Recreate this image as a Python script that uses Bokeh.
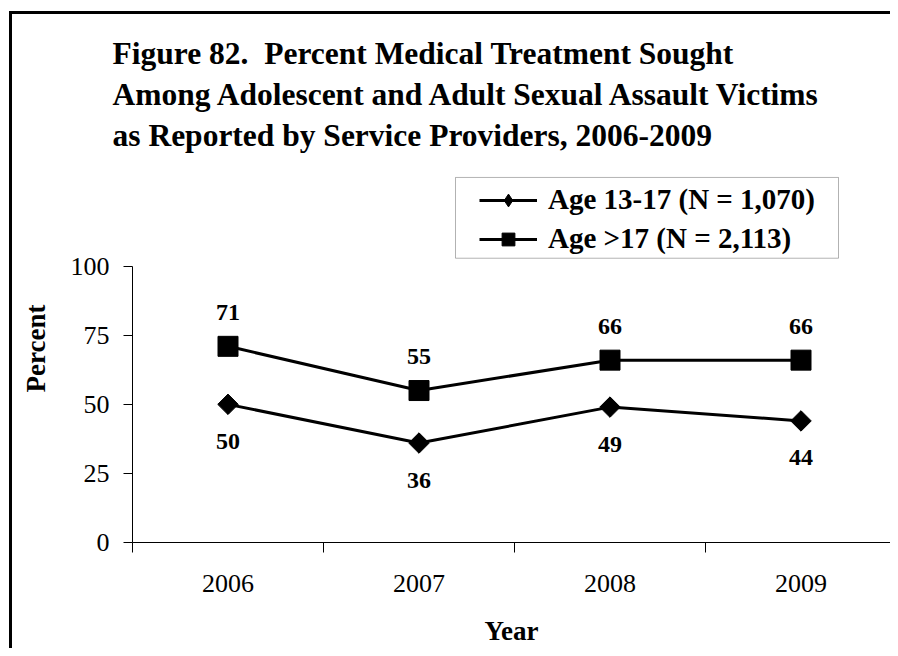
from bokeh.plotting import figure
from bokeh.models import (ColumnDataSource, FixedTicker, LabelSet, Legend,
                          LegendItem, BoxAnnotation, Title, GlobalInlineStyleSheet)
from bokeh.embed import file_html
from bokeh.resources import INLINE
import math

# ---- data ----
years = ["2006", "2007", "2008", "2009"]
age_13_17 = [50, 36, 49, 44]
age_over_17 = [71, 55, 66, 66]
y_ticks = [0, 25, 50, 75, 100]
title_lines = [
    "Figure 82.\u00a0 Percent Medical Treatment Sought",
    "Among Adolescent and Adult Sexual Assault Victims",
    "as Reported by Service Providers, 2006-2009",
]
legend_labels = ["Age 13-17 (N = 1,070)", "Age >17 (N = 2,113)"]

FONT = "Liberation Serif"

# ---- layout geometry (pixels) ----
W, H = 890, 648
AX_LEFT, AX_BOTTOM, AX_TOP100 = 132, 543, 266   # y axis x, y=0 and y=100 rows
FRAME_TOP = 154
CAT_W = 191
PX_PER_UNIT = (AX_BOTTOM - AX_TOP100) / 100.0

def xd(px):
    return -0.5 + (px - AX_LEFT) / CAT_W

def yd(py):
    return (AX_BOTTOM - py) / PX_PER_UNIT

idx = list(range(len(years)))
src = ColumnDataSource(dict(
    x=idx,
    teen=age_13_17,
    adult=age_over_17,
    teen_txt=[str(v) for v in age_13_17],
    adult_txt=[str(v) for v in age_over_17],
))

p = figure(width=W, height=H, output_backend="svg", toolbar_location=None, title=None,
           x_range=(-0.5, xd(W)), y_range=(0, yd(FRAME_TOP)),
           min_border_left=AX_LEFT, min_border_right=0,
           min_border_top=FRAME_TOP, min_border_bottom=H - AX_BOTTOM)
p.outline_line_color = None
p.xgrid.visible = False
p.ygrid.visible = False
p.background_fill_color = "white"
p.border_fill_alpha = 0
# outer chart frame (left and top edges; the others lie beyond the picture),
# painted as the element background behind the transparent canvas border area
p.styles = {
    "overflow": "hidden",
    "background-color": "white",
    "background-image": "linear-gradient(#000, #000), linear-gradient(#000, #000)",
    "background-position": "9px 11px, 9px 11px",
    "background-size": "3px 100%, 100% 3px",
    "background-repeat": "no-repeat",
}
# keep the page itself free of scrollbars
p.stylesheets = [GlobalInlineStyleSheet(
    css="html, body { overflow: hidden !important; } "
        "::-webkit-scrollbar { display: none; width: 0; height: 0; }")]

# ---- axes ----
xa = p.xaxis[0]
xa.ticker = FixedTicker(ticks=idx, minor_ticks=[i - 0.5 for i in range(len(years) + 1)])
xa.major_label_overrides = {i: y for i, y in zip(idx, years)}
xa.major_tick_line_color = None
xa.major_tick_out = 0
xa.major_tick_in = 0
xa.minor_tick_line_color = "black"
xa.minor_tick_out = 10
xa.minor_tick_in = 0
xa.axis_line_color = "black"
xa.major_label_text_font = FONT
xa.major_label_text_font_size = "26px"
xa.major_label_text_color = "black"
xa.major_label_standoff = 22
xa.axis_label = "Year"
xa.axis_label_text_font = FONT
xa.axis_label_text_font_style = "bold"
xa.axis_label_text_font_size = "27px"
xa.axis_label_text_color = "black"
xa.axis_label_standoff = 21

ya = p.yaxis[0]
ya.ticker = FixedTicker(ticks=y_ticks)
ya.bounds = (0, 100)
ya.major_tick_out = 9
ya.major_tick_in = 0
ya.minor_tick_line_color = None
ya.major_tick_line_color = "black"
ya.axis_line_color = "black"
ya.major_label_text_font = FONT
ya.major_label_text_font_size = "26px"
ya.major_label_text_color = "black"
ya.major_label_standoff = 14
ya.axis_label = "Percent"
ya.axis_label_text_font = FONT
ya.axis_label_text_font_style = "bold"
ya.axis_label_text_font_size = "27px"
ya.axis_label_text_color = "black"
ya.axis_label_standoff = 17

# ---- series ----
l_teen = p.line("x", "teen", source=src, line_color="black", line_width=3)
# diamond glyph (also used for the legend key), covered by a rotated square
m_teen_key = p.scatter("x", "teen", source=src, marker="diamond", size=19, color="black")
m_teen = p.scatter("x", "teen", source=src, marker="square", size=14.5,
                   angle=math.pi / 4, color="black")
l_adult = p.line("x", "adult", source=src, line_color="black", line_width=3)
m_adult = p.scatter("x", "adult", source=src, marker="square", size=20, color="black")

p.add_layout(LabelSet(x="x", y="adult", text="adult_txt", source=src, y_offset=34,
                      text_align="center", text_baseline="middle", text_font=FONT,
                      text_font_style="bold", text_font_size="24px", text_color="black"))
p.add_layout(LabelSet(x="x", y="teen", text="teen_txt", source=src, y_offset=-37,
                      text_align="center", text_baseline="middle", text_font=FONT,
                      text_font_style="bold", text_font_size="24px", text_color="black"))

# ---- legend ----
p.add_layout(BoxAnnotation(left=xd(455), right=xd(838), top=yd(177), bottom=yd(258),
                           fill_alpha=0, line_color="black", line_width=1))
legend = Legend(items=[LegendItem(label=legend_labels[0], renderers=[l_teen, m_teen_key]),
                       LegendItem(label=legend_labels[1], renderers=[l_adult, m_adult])],
                location=(479 - AX_LEFT, AX_BOTTOM - 256), orientation="vertical",
                border_line_color=None, background_fill_alpha=0,
                padding=0, margin=0, spacing=6,
                glyph_width=58, glyph_height=32, label_height=32,
                label_standoff=11, label_text_font=FONT,
                label_text_font_style="bold", label_text_font_size="29px",
                label_text_color="black")
p.add_layout(legend, "center")

# ---- title (three stacked lines, nearest to the plot first) ----
for t in reversed(title_lines):
    p.add_layout(Title(text=t, align="left", offset=112 - AX_LEFT, standoff=3.5,
                       text_font=FONT, text_font_style="bold",
                       text_font_size="31.5px", text_color="black"), "above")

open("out.html", "w").write(file_html(p, INLINE))
